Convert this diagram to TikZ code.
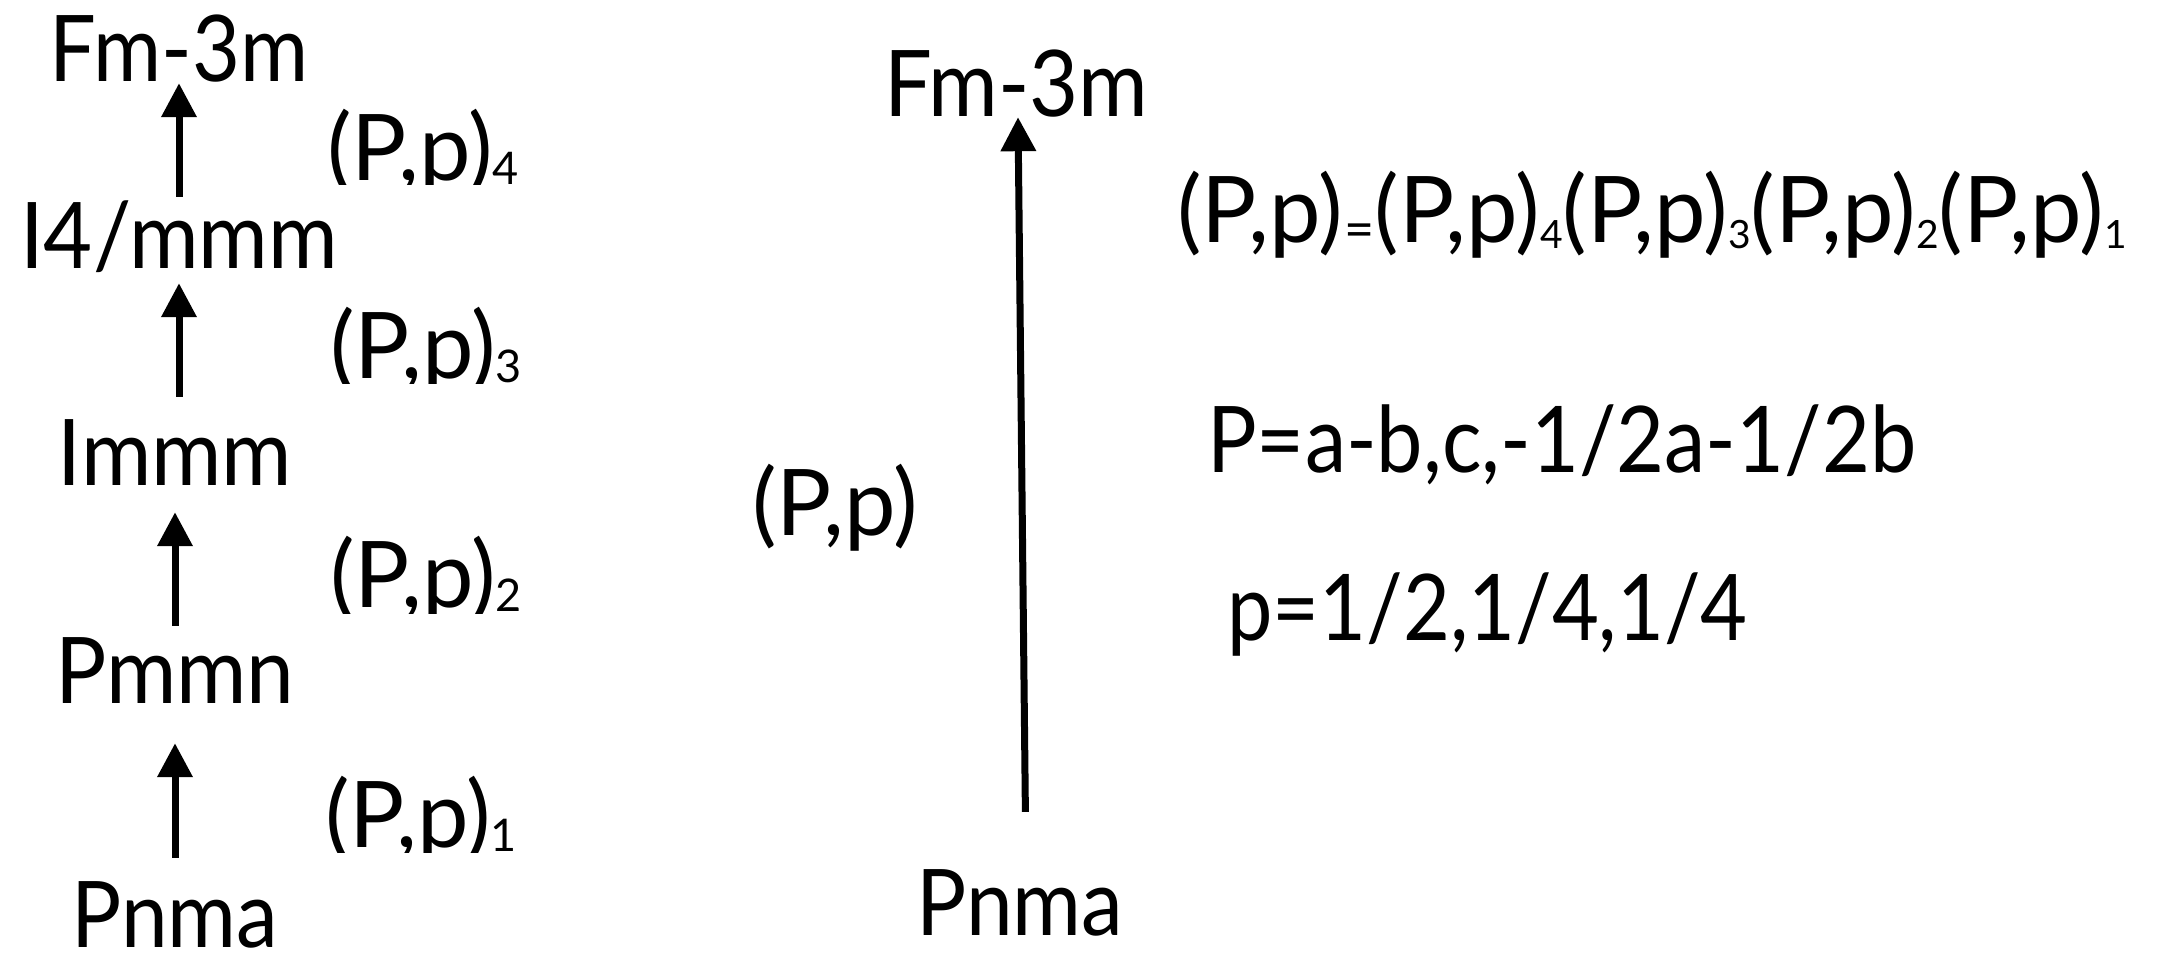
\documentclass[tikz,border=0pt]{standalone}
\usepackage{fontspec}
\setmainfont{Lato}
\usetikzlibrary{arrows.meta}
\newcommand\mysubL[1]{\raisebox{-4pt}{\fontsize{45}{45}\selectfont #1}}
\newcommand\mysubR[1]{\raisebox{-6pt}{\fontsize{39}{39}\selectfont #1}}
\newcommand\myeq{\hspace{2pt}\raisebox{-5pt}{\fontsize{52}{52}\selectfont =}}
\begin{document}
\begin{tikzpicture}[x=1pt,y=-1pt,
  grp/.style={inner sep=0pt, anchor=base, font=\fontsize{92}{92}\selectfont, text height=66pt, text depth=0pt},
  lbl/.style={inner sep=0pt, anchor=base west, font=\fontsize{92}{92}\selectfont},
  arr/.style={line width=7pt, -{Triangle[width=34pt,length=34pt]}}]
\useasboundingbox[fill=white] (0,0) rectangle (2173,955);
% left chain
\node[grp] (fmL)   at (179,82)  {\scalebox{0.9}[1]{Fm-3m}};
\node[grp] (i4)    at (179,268) {\scalebox{0.92}[1]{I4/mmm}};
\node[grp] (immm)  at (175,485) {\scalebox{0.93}[1]{Immm}};
\node[grp] (pmmn)  at (175,703) {\scalebox{0.93}[1]{Pmmn}};
\node[grp] (pnmaL) at (175,947) {\scalebox{0.91}[1]{Pnma}};
\draw[arr, shorten <=23pt, shorten >=40pt] (pnmaL.north) -- (pmmn.south);
\draw[arr, shorten <=11pt, shorten >=27pt] (pmmn.north) -- (immm.south);
\draw[arr, shorten <=22pt, shorten >=15pt] (immm.north -| i4.south) -- (i4.south);
\draw[arr, shorten <=5pt, shorten >=1pt] (i4.north) -- (fmL.south);
% left labels
\begin{scope}
\clip (300,90) rectangle (540,184);
\node[lbl] (l4) at (327,180) {(P,p)\mysubL{4}};
\end{scope}
\begin{scope}
\clip (300,290) rectangle (540,383);
\node[lbl] (l3) at (330,378) {(P,p)\mysubL{3}};
\end{scope}
\begin{scope}
\clip (300,520) rectangle (540,613);
\node[lbl] (l2) at (330,607) {(P,p)\mysubL{2}};
\end{scope}
\begin{scope}
\clip (300,760) rectangle (540,852);
\node[lbl] (l1) at (325,847) {(P,p)\mysubL{1}};
\end{scope}
% right part
\node[grp] (fmR)   at (1016,117) {\scalebox{0.92}[1]{Fm-3m}};
\node[grp] (pnmaR) at (1020,935) {\scalebox{0.91}[1]{Pnma}};
\draw[arr, shorten <=57pt] ([xshift=6pt]pnmaR.north) -- ([xshift=2pt]fmR.south);
\begin{scope}
\clip (730,440) rectangle (930,559);
\node[lbl] (pp) at (752,535) {(P,p)};
\end{scope}
\begin{scope}
\clip (1160,150) rectangle (2173,267);
\node[lbl] (prod) at (1177,242) {(P,p)\myeq(P,p)\mysubR{4}(P,p)\mysubR{3}(P,p)\mysubR{2}(P,p)\mysubR{1}};
\end{scope}
\node[lbl] (Pdef) at (1207,472) {\scalebox{0.9}[1]{P=a-b,c,-1/2a-1/2b}};
\node[lbl] (pdef) at (1227,640) {\scalebox{0.88}[1]{p=1/2,1/4,1/4}};
\end{tikzpicture}
\end{document}
